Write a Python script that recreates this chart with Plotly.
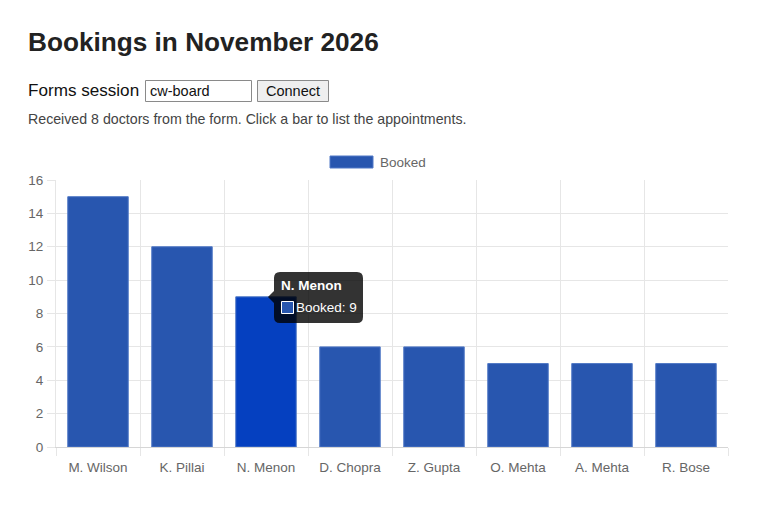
import plotly.graph_objects as go

doctors = ["M. Wilson", "K. Pillai", "N. Menon", "D. Chopra", "Z. Gupta", "O. Mehta", "A. Mehta", "R. Bose"]
booked = [15, 12, 9, 6, 6, 5, 5, 5]
highlight = "N. Menon"
series_name = "Booked"
title_text = "Bookings in November 2026"
session_label = "Forms session"
session_value = "cw-board"
button_label = "Connect"
status_text = "Received 8 doctors from the form. Click a bar to list the appointments."

OFF = 8  # page body margin
W, H = 768 - OFF, 516 - OFF
L, R, T, B = 56, 728, 180, 447  # screen px of plot area
FONT = "Liberation Sans, Arial, Helvetica, sans-serif"
CF = 13.5  # chart text size
BAR = "#2856AF"
BAR_HI = "#0540C0"
EDGE = "#5079C6"
GRID = "#e6e6e6"


def X(px):
    return (px - L) / (R - L)


def Y(py):
    return (B - py) / (B - T)


colors = [BAR_HI if d == highlight else BAR for d in doctors]

fig = go.Figure()
fig.add_trace(go.Bar(
    x=doctors, y=booked, name=series_name,
    marker=dict(color=colors, line=dict(color=EDGE, width=1)),
    width=0.72, hoverinfo="none", showlegend=False,
))

shapes = []
annotations = []

annotations.append(dict(x=X(25.5), y=Y(42), xref="paper", yref="paper", text="<b>%s</b>" % title_text,
                        showarrow=False, xanchor="left", yanchor="middle",
                        font=dict(family=FONT, size=26.2, color="#222222")))
annotations.append(dict(x=X(25.5), y=Y(90), xref="paper", yref="paper", text=session_label,
                        showarrow=False, xanchor="left", yanchor="middle",
                        font=dict(family=FONT, size=17.1, color="#111111")))
shapes.append(dict(type="rect", xref="paper", yref="paper", x0=X(145.5), x1=X(251.5), y0=Y(80.5), y1=Y(101.5),
                   line=dict(color="#8a8a8a", width=1), fillcolor="white", layer="above"))
annotations.append(dict(x=X(148), y=Y(91), xref="paper", yref="paper", text=session_value,
                        showarrow=False, xanchor="left", yanchor="middle",
                        font=dict(family=FONT, size=14.5, color="#111111")))
shapes.append(dict(type="rect", xref="paper", yref="paper", x0=X(257.5), x1=X(328.5), y0=Y(80.5), y1=Y(101.5),
                   line=dict(color="#8a8a8a", width=1), fillcolor="#efefef", layer="above"))
annotations.append(dict(x=X(293), y=Y(91), xref="paper", yref="paper", text=button_label,
                        showarrow=False, xanchor="center", yanchor="middle",
                        font=dict(family=FONT, size=14.5, color="#111111")))
annotations.append(dict(x=X(25.5), y=Y(119), xref="paper", yref="paper", text=status_text,
                        showarrow=False, xanchor="left", yanchor="middle",
                        font=dict(family=FONT, size=14.2, color="#444444")))

# legend
shapes.append(dict(type="rect", xref="paper", yref="paper", x0=X(330), x1=X(373), y0=Y(156), y1=Y(168),
                   line=dict(color=EDGE, width=1), fillcolor=BAR, layer="above"))
annotations.append(dict(x=X(378), y=Y(162), xref="paper", yref="paper", text=series_name,
                        showarrow=False, xanchor="left", yanchor="middle",
                        font=dict(family=FONT, size=CF, color="#666666")))

# tooltip for highlighted bar
hi_idx = doctors.index(highlight)
tl, tt, tr, tb, rr = 274, 272, 363, 323, 6
cy, tipx, cs = 297, 268, 6
path = "M %f,%f " % (X(tl + rr), Y(tt))
path += "L %f,%f " % (X(tr - rr), Y(tt))
path += "Q %f,%f %f,%f " % (X(tr), Y(tt), X(tr), Y(tt + rr))
path += "L %f,%f " % (X(tr), Y(tb - rr))
path += "Q %f,%f %f,%f " % (X(tr), Y(tb), X(tr - rr), Y(tb))
path += "L %f,%f " % (X(tl + rr), Y(tb))
path += "Q %f,%f %f,%f " % (X(tl), Y(tb), X(tl), Y(tb - rr))
path += "L %f,%f " % (X(tl), Y(cy + cs))
path += "L %f,%f " % (X(tipx), Y(cy))
path += "L %f,%f " % (X(tl), Y(cy - cs))
path += "L %f,%f " % (X(tl), Y(tt + rr))
path += "Q %f,%f %f,%f Z" % (X(tl), Y(tt), X(tl + rr), Y(tt))
shapes.append(dict(type="path", xref="paper", yref="paper", path=path,
                   fillcolor="rgba(0,0,0,0.8)", line=dict(width=0), layer="above"))
annotations.append(dict(x=X(279), y=Y(285), xref="paper", yref="paper", text="<b>%s</b>" % highlight,
                        showarrow=False, xanchor="left", yanchor="middle",
                        font=dict(family=FONT, size=CF, color="white")))
shapes.append(dict(type="rect", xref="paper", yref="paper", x0=X(281.5), x1=X(293.5), y0=Y(301.5), y1=Y(313.5),
                   line=dict(color="white", width=1), fillcolor=BAR, layer="above"))
annotations.append(dict(x=X(294), y=Y(307), xref="paper", yref="paper",
                        text="%s: %d" % (series_name, booked[hi_idx]),
                        showarrow=False, xanchor="left", yanchor="middle",
                        font=dict(family=FONT, size=CF, color="white")))

fig.update_layout(
    width=W, height=H,
    margin=dict(l=L - OFF, r=768 - R, t=T - OFF, b=516 - B, pad=0),
    paper_bgcolor="white", plot_bgcolor="white",
    shapes=shapes, annotations=annotations,
    showlegend=False,
    font=dict(family=FONT, size=CF, color="#666666"),
    xaxis=dict(type="category", tickson="boundaries", showgrid=True, gridcolor=GRID, gridwidth=1,
               ticks="outside", ticklen=8, tickcolor=GRID, showline=True, linecolor="#d6d6d6",
               linewidth=1, zeroline=False, ticklabelstandoff=8,
               tickfont=dict(family=FONT, size=CF, color="#666666"), fixedrange=True),
    yaxis=dict(range=[0, 16], dtick=2, showgrid=True, gridcolor=GRID, gridwidth=1,
               ticks="outside", ticklen=8, tickcolor=GRID, showline=True, linecolor=GRID,
               zeroline=False, ticklabelstandoff=1,
               tickfont=dict(family=FONT, size=CF, color="#666666"), fixedrange=True),
    hovermode=False,
)

fig.write_html("out.html", config={"displayModeBar": False})
